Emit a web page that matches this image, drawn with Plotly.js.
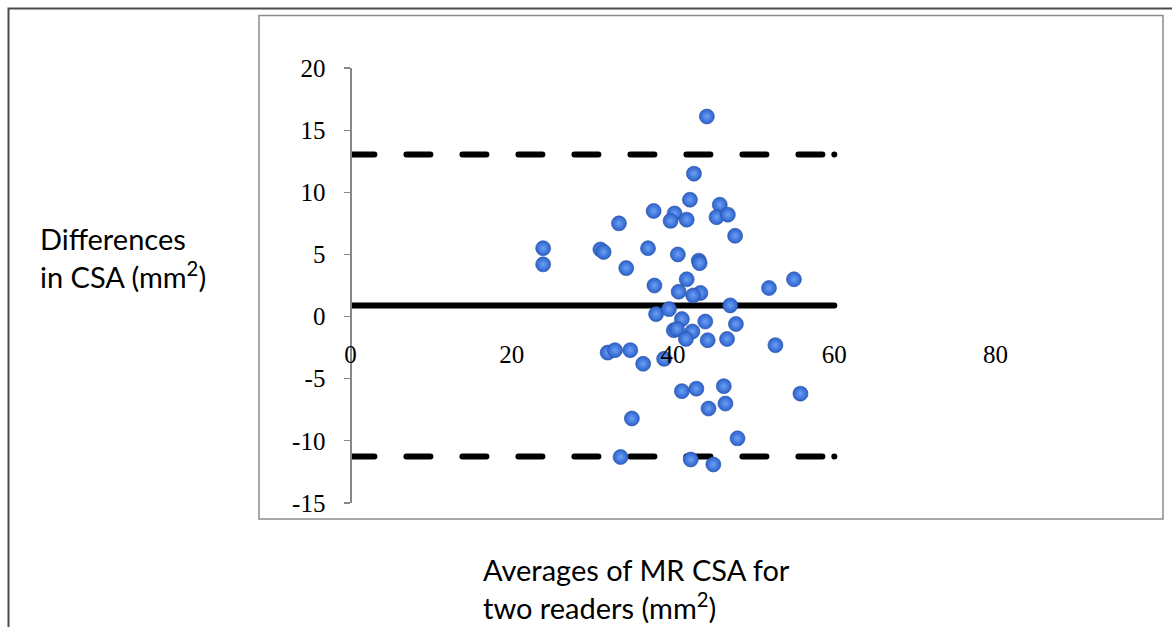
<!DOCTYPE html>
<html>
<head>
<meta charset="utf-8">
<script src="https://cdn.plot.ly/plotly-3.0.1.min.js"></script>
<style>
html,body{margin:0;padding:0;background:#fff;}
#chart{width:1172px;height:627px;}
</style>
</head>
<body>
<div id="chart"></div>
<script>
// ---- data ----
const avgCSA = [23.9, 23.9, 31.0, 31.4, 44.2, 42.6, 42.1, 37.6, 40.2, 39.7,
  41.7, 45.8, 45.4, 46.8, 33.3, 47.7, 36.9, 40.6, 43.2, 43.3,
  34.2, 41.7, 37.7, 40.7, 43.4, 42.5, 51.9, 55.0, 47.1, 37.9,
  39.5, 41.1, 44.0, 47.8, 40.1, 40.5, 42.4, 41.6, 44.3, 46.7,
  52.7, 31.9, 32.8, 34.7, 36.3, 38.9, 41.1, 42.9, 46.3, 44.4,
  46.5, 55.8, 34.9, 48.0, 33.5, 42.2, 45.0];
const diffCSA = [5.5, 4.2, 5.4, 5.2, 16.1, 11.5, 9.4, 8.5, 8.3, 7.7,
  7.8, 9.0, 8.0, 8.2, 7.5, 6.5, 5.5, 5.0, 4.5, 4.3,
  3.9, 3.0, 2.5, 2.0, 1.9, 1.7, 2.3, 3.0, 0.9, 0.2,
  0.6, -0.2, -0.4, -0.6, -1.1, -1.0, -1.2, -1.8, -1.9, -1.8,
  -2.3, -2.9, -2.7, -2.7, -3.8, -3.4, -6.0, -5.8, -5.6, -7.4,
  -7.0, -6.2, -8.2, -9.8, -11.3, -11.5, -11.9];
const lineX = [0, 60];
const meanDiff = [0.9, 0.9];
const upperLoA = [13.05, 13.05];
const lowerLoA = [-11.25, -11.25];
const xTickVals = [0, 20, 40, 60, 80];
const xTickText = ['0', '20', '40', '60', '80'];
const yTickVals = [20, 15, 10, 5, 0, -5, -10, -15];
const yTickText = ['20', '15', '10', '5', '0', '-5', '-10', '-15'];
const yTitleText = 'Differences<br>in CSA (mm<sup>2</sup>)';
const xTitleText = 'Averages of MR CSA for<br>two readers (mm<sup>2</sup>)';

// ---- layout geometry (pixels) ----
const W = 1172, H = 627;
const px0 = 350.4, px80 = 995.6;     // x = 0 .. 80
const pyTop = 68, pyBot = 503;        // y = 20 .. -15
const yMin = -15, yMax = 20;
const yDom = [(H - pyBot) / H, (H - pyTop) / H];
const xAxisPos = yDom[0] + (0 - yMin) / (yMax - yMin) * (yDom[1] - yDom[0]);

const lineStyle = (dash) => ({color: '#000', width: 6, dash: dash});

const traces = [
  {x: lineX, y: upperLoA, mode: 'lines+markers', line: lineStyle('24px,32px'),
   marker: {size: 6, color: '#000'}, hoverinfo: 'skip'},
  {x: lineX, y: lowerLoA, mode: 'lines+markers', line: lineStyle('24px,32px'),
   marker: {size: 6, color: '#000'}, hoverinfo: 'skip'},
  {x: lineX, y: meanDiff, mode: 'lines', line: lineStyle('solid'), hoverinfo: 'skip'},
  {x: avgCSA, y: diffCSA, mode: 'markers',
   marker: {size: 15, color: '#2c60cc',
            gradient: {type: 'radial', color: '#6aa0f5'},
            line: {width: 0.6, color: '#27529f'}}}
];

const layout = {
  width: W, height: H,
  margin: {l: 0, r: 0, t: 0, b: 0, pad: 0},
  paper_bgcolor: '#fff', plot_bgcolor: 'rgba(0,0,0,0)',
  showlegend: false,
  xaxis: {
    domain: [px0 / W, px80 / W], range: [0, 80],
    anchor: 'free', position: xAxisPos,
    showline: false, showgrid: false, zeroline: false,
    tickmode: 'array', tickvals: xTickVals, ticktext: xTickText,
    ticks: '', ticklabelstandoff: 20,
    tickfont: {family: 'Liberation Serif, serif', size: 25, color: '#000'},
    fixedrange: true, automargin: false
  },
  yaxis: {
    domain: yDom, range: [yMin, yMax],
    anchor: 'free', position: px0 / W,
    showline: true, linecolor: '#868686', linewidth: 1.2,
    showgrid: false, zeroline: false,
    tickmode: 'array', tickvals: yTickVals, ticktext: yTickText,
    ticks: 'outside', ticklen: 6, tickcolor: '#868686', tickwidth: 1.2,
    ticklabelstandoff: 14,
    tickfont: {family: 'Liberation Serif, serif', size: 25, color: '#000'},
    fixedrange: true, automargin: false
  },
  shapes: [
    {type: 'rect', xref: 'paper', yref: 'paper',
     x0: 8.5 / W, x1: 1200 / W, y0: -0.1, y1: 1 - 8.5 / H,
     line: {color: '#4a4a4a', width: 2}, layer: 'below'},
    {type: 'rect', xref: 'paper', yref: 'paper',
     x0: 259 / W, x1: 1163 / W, y0: 1 - 519 / H, y1: 1 - 15.5 / H,
     line: {color: '#8a8a8a', width: 1.5}, layer: 'below'}
  ],
  annotations: [
    {text: yTitleText, xref: 'paper', yref: 'paper',
     x: 38 / W, y: 1 - 219 / H, xanchor: 'left', yanchor: 'top', align: 'left',
     showarrow: false, font: {family: 'Lato, sans-serif', size: 29, color: '#000'}},
    {text: xTitleText, xref: 'paper', yref: 'paper',
     x: 481 / W, y: 1 - 550 / H, xanchor: 'left', yanchor: 'top', align: 'left',
     showarrow: false, font: {family: 'Lato, sans-serif', size: 29, color: '#000'}}
  ]
};

Plotly.newPlot('chart', traces, layout, {staticPlot: true, displayModeBar: false}).then(() => {
  document.querySelectorAll('#chart .scatterlayer .js-line').forEach(p => {
    p.style.strokeLinecap = 'round';
  });
});
</script>
</body>
</html>
